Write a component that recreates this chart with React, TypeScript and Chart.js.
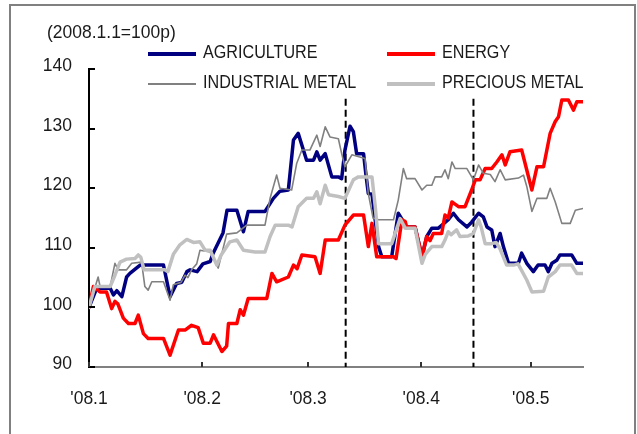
import { useEffect, useRef } from 'react';
import { Chart, registerables } from 'chart.js';

Chart.register(...registerables);

// ---- data (x = days since 2008-01-01, y = index, 2008.1.1 = 100) ----
const monthTickDays = [0, 31, 60, 91, 121];
const monthTickLabels = ["'08.1", "'08.2", "'08.3", "'08.4", "'08.5"];
const yTickValues = [90, 100, 110, 120, 130, 140];
const unitLabel = '(2008.1.1=100p)';

const seriesNames = ['AGRICULTURE', 'ENERGY', 'INDUSTRIAL METAL', 'PRECIOUS METAL'];

const agricultureDays = [0, 2.1, 5.8, 6.7, 7.6, 9.0, 10.3, 11.2, 14.0, 20.4, 22.2, 24.0, 25.4, 26.8, 27.7, 29.6, 31.2, 33.2, 34.0, 36.7, 37.8, 40.5, 42.3, 43.6, 48.2, 50.5, 52.3, 54.6, 56.0, 57.3, 59.6, 61.5, 62.4, 63.3, 64.7, 66.5, 68.3, 69.2, 70.1, 71.5, 72.4, 73.3, 75.2, 75.9, 76.5, 77.5, 79.3, 80.2, 82.9, 84.7, 85.7, 86.6, 89.3, 91.2, 92.5, 93.9, 95.7, 98.4, 99.8, 101.2, 103.5, 104.8, 106.7, 108.0, 109.0, 110.3, 111.2, 112.6, 113.5, 114.9, 117.6, 118.5, 119.9, 121.7, 123.0, 124.9, 125.8, 126.8, 128.1, 129.0, 132.2, 133.6, 135.3];
const agricultureValues = [100, 103.2, 103.2, 102.1, 102.8, 101.8, 105.1, 105.7, 107.1, 107.1, 101.8, 104.0, 104.2, 106.0, 106.3, 106.0, 107.3, 107.7, 109.1, 112.5, 116.3, 116.3, 112.7, 116.1, 116.1, 118.3, 119.5, 119.7, 128.1, 129.2, 124.7, 124.7, 126.1, 124.7, 125.8, 121.9, 121.9, 121.6, 126.4, 130.4, 129.5, 125.8, 125.8, 122.0, 119.1, 119.0, 110.2, 108.5, 108.5, 115.8, 114.8, 113.5, 113.5, 108.5, 111.9, 113.3, 113.3, 114.7, 115.8, 114.7, 113.5, 114.3, 115.8, 115.2, 113.5, 113.0, 110.2, 112.4, 110.2, 107.4, 107.4, 109.1, 107.4, 106.0, 107.1, 107.1, 106.0, 107.4, 107.9, 108.8, 108.8, 107.4, 107.4];

const energyDays = [0, 1.2, 3.0, 4.8, 6.2, 7.1, 7.9, 9.4, 10.8, 12.6, 13.5, 14.9, 16.2, 20.4, 22.2, 24.5, 26.3, 28.1, 29.9, 31.3, 33.2, 34.1, 36.4, 37.7, 38.2, 40.5, 41.4, 42.3, 43.6, 48.7, 50.1, 51.4, 54.6, 56.0, 57.0, 58.3, 61.9, 63.3, 64.7, 68.3, 70.1, 72.4, 75.2, 76.5, 77.5, 78.4, 78.8, 83.4, 84.1, 85.7, 86.6, 87.0, 89.3, 91.2, 92.5, 93.4, 94.3, 96.6, 97.5, 98.4, 99.4, 101.2, 103.0, 104.8, 105.8, 107.1, 108.5, 110.3, 111.7, 113.1, 114.0, 115.3, 118.5, 121.3, 122.7, 124.5, 126.3, 127.7, 128.6, 129.5, 131.3, 132.7, 133.6, 135.3];
const energyValues = [100, 103.5, 102.6, 102.6, 99.8, 101.0, 100.6, 98.2, 97.3, 97.3, 98.7, 95.6, 94.8, 94.8, 92.0, 96.2, 96.2, 97.0, 96.6, 94.0, 94.0, 95.4, 92.6, 93.5, 97.3, 97.3, 99.6, 98.7, 101.5, 101.5, 105.7, 104.3, 105.1, 107.1, 106.5, 108.8, 108.5, 105.7, 111.3, 111.3, 113.8, 115.5, 115.5, 110.2, 114.1, 110.2, 108.5, 108.5, 108.2, 114.7, 114.4, 113.5, 113.5, 108.5, 111.9, 111.2, 112.4, 112.4, 115.5, 115.0, 117.7, 116.9, 116.9, 119.7, 121.4, 121.4, 123.3, 123.3, 124.4, 125.6, 123.9, 126.1, 126.4, 119.7, 123.6, 123.6, 129.2, 131.2, 132.0, 134.8, 134.8, 133.1, 134.5, 134.5];

const industrialDays = [0, 2.5, 3.0, 5.8, 7.1, 8.0, 10.3, 11.7, 14.4, 15.3, 16.2, 17.2, 20.4, 22.2, 23.1, 25.2, 26.3, 27.1, 28.1, 29.5, 30.4, 33.2, 35.4, 37.7, 40.5, 43.2, 48.2, 49.6, 51.4, 52.3, 55.5, 56.9, 58.3, 60.5, 62.4, 63.3, 64.7, 66.0, 68.3, 69.2, 70.1, 72.0, 75.6, 76.5, 77.8, 79.3, 83.4, 84.7, 86.1, 87.0, 89.3, 91.2, 92.5, 93.9, 94.8, 96.6, 97.5, 98.4, 99.4, 100.3, 103.5, 105.3, 106.7, 108.0, 109.9, 111.2, 112.6, 114.0, 117.6, 119.0, 119.9, 121.3, 122.7, 125.4, 126.3, 127.7, 129.5, 131.8, 133.2, 135.3];
const industrialValues = [100, 105.1, 103.6, 103.5, 107.4, 106.3, 106.3, 107.4, 107.6, 103.5, 102.9, 104.3, 104.3, 101.2, 103.8, 104.2, 105.4, 105.0, 106.3, 107.3, 109.6, 109.3, 106.6, 112.3, 112.5, 113.8, 113.8, 118.3, 122.2, 120.0, 119.7, 124.2, 126.4, 126.4, 128.9, 127.0, 130.3, 128.6, 128.3, 125.8, 123.6, 125.6, 125.0, 119.1, 115.0, 114.7, 114.7, 118.0, 123.3, 121.6, 121.6, 119.7, 120.5, 120.5, 121.9, 121.9, 123.1, 121.6, 124.4, 123.3, 123.3, 121.4, 123.9, 122.5, 122.3, 121.1, 123.1, 121.4, 121.7, 122.2, 120.3, 116.1, 118.3, 118.3, 120.0, 117.7, 114.1, 114.1, 116.3, 116.6];

const preciousDays = [0, 1.6, 5.8, 7.1, 8.5, 10.3, 12.6, 13.5, 14.2, 15.1, 20.8, 21.6, 23.1, 24.9, 26.8, 28.6, 30.4, 31.8, 33.2, 35.0, 36.2, 38.6, 40.5, 42.3, 45.5, 48.2, 49.6, 51.0, 54.6, 55.6, 57.3, 59.6, 61.5, 62.4, 63.3, 64.7, 65.6, 68.3, 70.1, 72.4, 73.8, 77.5, 78.4, 79.3, 82.9, 85.2, 86.6, 89.3, 91.2, 92.1, 93.9, 96.6, 97.5, 98.4, 99.2, 100.7, 101.6, 103.9, 105.3, 106.7, 107.4, 108.5, 110.3, 111.5, 112.6, 114.4, 116.3, 117.5, 118.4, 119.9, 121.3, 124.5, 125.8, 127.7, 129.0, 132.2, 133.6, 135.3];
const preciousValues = [100, 103.5, 103.5, 105.4, 107.6, 108.1, 108.2, 108.8, 108.4, 106.3, 106.3, 106.0, 108.9, 110.5, 111.4, 110.9, 111.0, 109.6, 109.6, 107.1, 108.8, 111.0, 111.3, 109.6, 109.3, 109.3, 111.9, 113.8, 113.8, 113.5, 116.9, 118.3, 118.3, 119.4, 117.4, 120.5, 118.9, 118.6, 118.3, 121.4, 121.9, 121.9, 116.9, 110.7, 110.7, 114.9, 113.3, 113.3, 107.4, 108.9, 110.2, 110.2, 111.3, 112.7, 112.2, 113.0, 111.9, 112.0, 112.4, 114.7, 113.5, 110.7, 110.7, 110.9, 109.8, 107.1, 107.1, 107.3, 106.3, 104.6, 102.6, 102.7, 105.1, 106.0, 107.1, 107.1, 105.7, 105.7];

const eventDays = [70.3, 105.3];
const eventRange = [90, 135];

// ---- styles ----
const FONT = "'Liberation Sans', Arial, sans-serif";
const FONT_SIZE = 19;
const NARROW_WORDS = 0.85; // horizontal squeeze to imitate a narrow face
const NARROW_NUMS = 0.92;
const TEXT = '#1a1a1a';
const seriesColors = ['#000080', '#ff0000', '#808080', '#c0c0c0'];
const seriesWidths = [3.5, 3.5, 1.6, 3.5];
const legendWidths = [4, 4, 2, 4];

const toPoints = (xs: number[], ys: number[]) => xs.map((x, i) => ({ x, y: ys[i] }));

function narrowText(ctx: CanvasRenderingContext2D, text: string, x: number, y: number, align: CanvasTextAlign, sx: number) {
  ctx.save();
  ctx.scale(sx, 1);
  ctx.textAlign = align;
  ctx.textBaseline = 'middle';
  ctx.fillText(text, x / sx, y);
  ctx.restore();
}

export default function App() {
  const canvasRef = useRef<HTMLCanvasElement | null>(null);

  useEffect(() => {
    const canvas = canvasRef.current;
    if (!canvas) return;

    const seriesData = [
      toPoints(agricultureDays, agricultureValues),
      toPoints(energyDays, energyValues),
      toPoints(industrialDays, industrialValues),
      toPoints(preciousDays, preciousValues),
    ];

    const datasets: any[] = seriesNames.map((name, i) => ({
      label: name,
      data: seriesData[i],
      borderColor: seriesColors[i],
      backgroundColor: seriesColors[i],
      borderWidth: seriesWidths[i],
      pointRadius: 0,
      tension: 0,
      borderJoinStyle: 'round',
      borderCapStyle: 'round',
      order: 10 - i,
    }));

    eventDays.forEach((d, i) => {
      datasets.push({
        label: 'event' + i,
        data: [
          { x: d, y: eventRange[1] },
          { x: d, y: eventRange[0] },
        ],
        borderColor: '#000000',
        borderWidth: 2,
        borderDash: [7, 4],
        pointRadius: 0,
        order: 20,
      });
    });

    const decorPlugin = {
      id: 'decor',
      afterDraw(chart: any) {
        const { ctx, chartArea, scales } = chart;
        const xs = scales.x;
        const ys = scales.y;
        ctx.save();
        // inward tick marks
        ctx.lineWidth = 2;
        ctx.strokeStyle = '#000000';
        ys.ticks.forEach((t: any) => {
          const y = Math.round(ys.getPixelForValue(t.value));
          ctx.beginPath();
          ctx.moveTo(chartArea.left, y);
          ctx.lineTo(chartArea.left + 6, y);
          ctx.stroke();
        });
        ctx.strokeStyle = '#333333';
        xs.ticks.forEach((t: any) => {
          const x = Math.round(xs.getPixelForValue(t.value));
          ctx.beginPath();
          ctx.moveTo(x, chartArea.bottom);
          ctx.lineTo(x, chartArea.bottom - 5);
          ctx.stroke();
        });

        ctx.fillStyle = TEXT;
        ctx.font = `${FONT_SIZE}px ${FONT}`;
        // tick labels
        ys.ticks.forEach((t: any) => {
          const y = ys.getPixelForValue(t.value);
          narrowText(ctx, String(t.value), chartArea.left - 17, y - 3, 'right', NARROW_NUMS);
        });
        xs.ticks.forEach((t: any) => {
          const idx = monthTickDays.indexOf(t.value);
          if (idx < 0) return;
          const x = xs.getPixelForValue(t.value);
          narrowText(ctx, monthTickLabels[idx], x, chartArea.bottom + 32, 'center', NARROW_NUMS);
        });
        // unit label
        narrowText(ctx, unitLabel, 47, 33, 'left', NARROW_NUMS);
        // legend
        const colX = [148, 387];
        const rowY = [54, 84];
        seriesNames.forEach((name, i) => {
          const cx = colX[i % 2];
          const cy = rowY[Math.floor(i / 2)];
          ctx.strokeStyle = seriesColors[i];
          ctx.lineWidth = legendWidths[i];
          ctx.lineCap = 'butt';
          ctx.beginPath();
          ctx.moveTo(cx, cy);
          ctx.lineTo(cx + 48, cy);
          ctx.stroke();
          ctx.fillStyle = TEXT;
          narrowText(ctx, name, cx + 55, cy - 1, 'left', NARROW_WORDS);
        });
        ctx.restore();
      },
    };

    const chart = new Chart(canvas, {
      type: 'line',
      data: { datasets },
      options: {
        responsive: false,
        animation: false,
        devicePixelRatio: 1,
        layout: { padding: { left: 0, top: 69, right: 54, bottom: 0 } },
        plugins: {
          legend: { display: false },
          tooltip: { enabled: false },
          title: { display: false },
        },
        scales: {
          x: {
            type: 'linear',
            min: 0,
            max: 135.3,
            afterFit: (s: any) => {
              s.height = 67;
            },
            afterBuildTicks: (s: any) => {
              s.ticks = monthTickDays.map((v) => ({ value: v }));
            },
            grid: { display: false, drawTicks: false },
            border: { display: true, color: '#808080', width: 2 },
            ticks: { display: false },
          },
          y: {
            type: 'linear',
            min: 90,
            max: 140,
            afterFit: (s: any) => {
              s.width = 89;
            },
            afterBuildTicks: (s: any) => {
              s.ticks = yTickValues.map((v) => ({ value: v }));
            },
            grid: { display: false, drawTicks: false },
            border: { display: true, color: '#000000', width: 2 },
            ticks: { display: false },
          },
        },
      },
      plugins: [decorPlugin],
    });

    return () => chart.destroy();
  }, []);

  return (
    <div style={{ position: 'fixed', left: 0, top: 0, width: 637, height: 434, background: '#ffffff', overflow: 'hidden' }}>
      <div
        style={{
          position: 'absolute',
          left: 9,
          top: 4,
          width: 627,
          height: 460,
          boxSizing: 'border-box',
          border: '2px solid #808080',
        }}
      />
      <canvas ref={canvasRef} width={637} height={434} style={{ position: 'absolute', left: 0, top: 0 }} />
    </div>
  );
}
